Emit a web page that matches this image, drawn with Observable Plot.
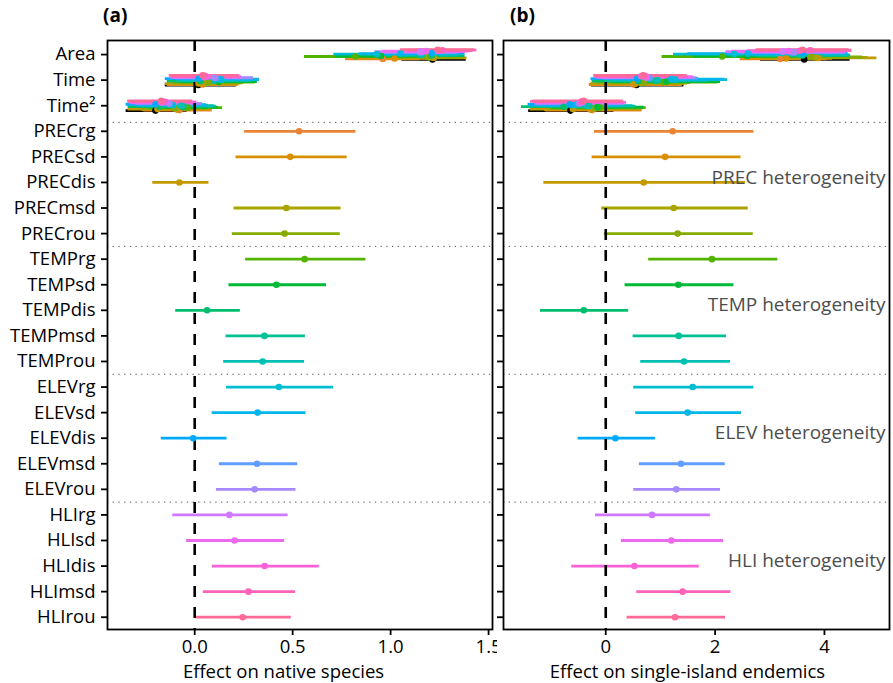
<!DOCTYPE html>
<html><head><meta charset="utf-8">
<script src="https://cdn.jsdelivr.net/npm/d3@7"></script>
<script src="https://cdn.jsdelivr.net/npm/@observablehq/plot@0.6"></script>
<style>
body{margin:0;background:#fff;}
#wrap{position:relative;width:893px;height:683px;}
#row{display:flex;}
.tag{position:absolute;top:6px;font:bold 19px 'Open Sans',sans-serif;line-height:18px;color:#000;}
</style></head>
<body>
<div id="wrap"><div id="row"></div><div class="tag" style="left:103px">(a)</div><div class="tag" style="left:510px">(b)</div></div>
<script>
// ---------- data ----------
const variables = ["PRECrg","PRECsd","PRECdis","PRECmsd","PRECrou",
  "TEMPrg","TEMPsd","TEMPdis","TEMPmsd","TEMProu",
  "ELEVrg","ELEVsd","ELEVdis","ELEVmsd","ELEVrou",
  "HLIrg","HLIsd","HLIdis","HLImsd","HLIrou"];
const covariates = ["Area","Time","Time²"];
const models = ["Null", ...variables];
const rowLabels = [...covariates, ...variables];
const groupLabels = ["PREC heterogeneity","TEMP heterogeneity","ELEV heterogeneity","HLI heterogeneity"];
const groupRows = ["PRECdis","TEMPdis","ELEVdis","HLIdis"];
const nativeTicks = [0, 0.5, 1.0, 1.5];
const endemicTicks = [0, 2, 4];

// heterogeneity effects (panel a: native species)
const nativeEst = [0.533,0.488,-0.078,0.468,0.459,0.561,0.417,0.063,0.356,0.347,0.430,0.321,-0.008,0.318,0.306,0.177,0.203,0.357,0.274,0.245];
const nativeLo  = [0.255,0.211,-0.214,0.201,0.192,0.260,0.175,-0.097,0.160,0.148,0.162,0.089,-0.170,0.126,0.111,-0.112,-0.041,0.090,0.044,0.007];
const nativeHi  = [0.823,0.778,0.073,0.747,0.743,0.874,0.673,0.233,0.565,0.561,0.709,0.568,0.165,0.526,0.517,0.477,0.459,0.636,0.515,0.493];
// heterogeneity effects (panel b: single-island endemics)
const endemicEst = [1.224,1.085,0.694,1.242,1.315,1.943,1.328,-0.401,1.334,1.431,1.590,1.498,0.177,1.376,1.291,0.847,1.200,0.524,1.407,1.267];
const endemicLo  = [-0.206,-0.249,-1.132,-0.073,-0.024,0.785,0.354,-1.193,0.500,0.640,0.512,0.548,-0.505,0.615,0.512,-0.188,0.287,-0.621,0.567,0.390];
const endemicHi  = [2.710,2.473,2.557,2.606,2.698,3.148,2.345,0.420,2.210,2.283,2.710,2.484,0.908,2.186,2.100,1.918,2.155,1.711,2.290,2.192];

// covariate effects per model (Null + 20 models), panel a
const nativeAreaEst = [1.214,0.96,1.02,1.22,1.20,1.19,0.82,0.95,1.21,1.15,1.16,0.93,1.05,1.21,1.15,1.16,1.15,1.18,1.245,1.265,1.24];
const nativeAreaLo  = [1.058,0.77,0.84,1.06,1.03,1.02,0.56,0.72,1.05,0.97,0.98,0.71,0.84,1.05,0.96,0.97,0.92,0.96,1.06,1.09,1.05];
const nativeAreaHi  = [1.386,1.15,1.21,1.39,1.37,1.37,1.07,1.18,1.38,1.34,1.35,1.16,1.27,1.38,1.34,1.35,1.38,1.40,1.42,1.44,1.43];
const nativeTimeEst = [0.019,0.04,0.045,0.02,0.06,0.07,0.12,0.125,0.03,0.10,0.10,0.136,0.13,0.02,0.11,0.10,0.05,0.06,0.05,0.051,0.04];
const nativeTimeLo  = [-0.150,-0.14,-0.135,-0.15,-0.12,-0.11,-0.08,-0.07,-0.14,-0.09,-0.09,-0.06,-0.07,-0.15,-0.09,-0.10,-0.12,-0.12,-0.12,-0.12,-0.13];
const nativeTimeHi  = [0.213,0.22,0.225,0.21,0.24,0.25,0.31,0.32,0.22,0.29,0.29,0.33,0.33,0.21,0.30,0.30,0.23,0.24,0.23,0.23,0.22];
const nativeTime2Est = [-0.200,-0.077,-0.09,-0.19,-0.098,-0.10,-0.036,-0.06,-0.18,-0.058,-0.07,-0.11,-0.12,-0.20,-0.13,-0.13,-0.17,-0.16,-0.15,-0.17,-0.17];
const nativeTime2Lo  = [-0.350,-0.26,-0.27,-0.34,-0.27,-0.27,-0.22,-0.24,-0.34,-0.23,-0.24,-0.29,-0.30,-0.35,-0.30,-0.30,-0.33,-0.33,-0.32,-0.34,-0.342];
const nativeTime2Hi  = [-0.039,0.09,0.08,-0.03,0.07,0.07,0.143,0.12,-0.02,0.11,0.10,0.07,0.06,-0.04,0.04,0.04,-0.01,0.00,0.01,-0.01,-0.013];
// covariate effects per model, panel b
const endemicAreaEst = [3.63,3.19,3.30,3.89,3.83,3.75,2.13,2.59,3.60,3.59,3.55,2.35,2.60,3.60,3.40,3.45,3.24,3.35,3.55,3.74,3.60];
const endemicAreaLo  = [2.83,2.46,2.50,2.85,2.90,2.85,1.03,1.60,2.78,2.70,2.65,1.24,1.50,2.78,2.45,2.50,2.20,2.30,2.60,2.80,2.75];
const endemicAreaHi  = [4.47,4.05,4.15,4.96,4.80,4.70,3.25,3.60,4.45,4.48,4.45,3.45,3.70,4.43,4.40,4.40,4.30,4.40,4.50,4.50,4.45];
const endemicTimeEst = [0.56,0.51,0.53,0.55,0.65,0.70,1.06,1.12,0.60,0.91,0.95,1.27,1.20,0.57,0.80,0.75,0.72,0.75,0.65,0.71,0.68];
const endemicTimeLo  = [-0.26,-0.30,-0.28,-0.27,-0.20,-0.15,0.10,0.12,-0.25,0.00,0.02,0.30,0.25,-0.27,-0.05,-0.10,-0.18,-0.15,-0.20,-0.20,-0.22];
const endemicTimeHi  = [1.43,1.40,1.40,1.42,1.50,1.55,2.05,2.10,1.45,1.85,1.90,2.23,2.18,1.43,1.70,1.65,1.55,1.60,1.50,1.49,1.48];
const endemicTime2Est = [-0.645,-0.25,-0.28,-0.60,-0.22,-0.20,-0.10,-0.15,-0.77,-0.30,-0.35,-0.61,-0.55,-0.66,-0.50,-0.48,-0.45,-0.43,-0.45,-0.43,-0.40];
const endemicTime2Lo  = [-1.41,-1.10,-1.12,-1.38,-1.05,-1.02,-0.95,-1.00,-1.54,-1.15,-1.20,-1.40,-1.35,-1.42,-1.30,-1.28,-1.28,-1.25,-1.30,-1.375,-1.33];
const endemicTime2Hi  = [0.15,0.665,0.62,0.18,0.65,0.68,0.74,0.70,0.05,0.55,0.50,0.20,0.25,0.12,0.30,0.32,0.35,0.38,0.33,0.30,0.32];

// ---------- styling helpers ----------
const FONT = "'Open Sans', sans-serif";
function hclHex(h, c, l) {
  const Xn = 95.047, Yn = 100, Zn = 108.883;
  const den = Xn + 15*Yn + 3*Zn, un = 4*Xn/den, vn = 9*Yn/den;
  const hr = h*Math.PI/180, U = c*Math.cos(hr), V = c*Math.sin(hr);
  const Y = Yn*Math.pow((l+16)/116, 3);
  const up = U/(13*l) + un, vp = V/(13*l) + vn;
  const X = Y*9*up/(4*vp), Z = Y*(12 - 3*up - 20*vp)/(4*vp);
  const x = X/100, y = Y/100, z = Z/100;
  const lin = [3.240479*x - 1.537150*y - 0.498535*z, -0.969256*x + 1.875992*y + 0.041556*z, 0.055648*x - 0.204043*y + 1.057311*z];
  const g = t => t <= 0.0031308 ? 12.92*t : 1.055*Math.pow(t, 1/2.4) - 0.055;
  return "#" + lin.map(t => Math.round(255*Math.max(0, Math.min(1, g(t)))).toString(16).padStart(2, "0")).join("");
}
const hues = d3.range(models.length).map(i => hclHex(15 + i*360/models.length, 100, 65));
const modelColors = ["#000000", ...hues.slice(1)];
const separators = [2.65, 7.5, 12.5, 17.5];

function buildRows(hEst, hLo, hHi, covs) {
  const rows = [];
  covs.forEach((c, r) => models.forEach((m, j) =>
    rows.push({y: r + (10 - j)*0.019, est: c[0][j], lo: c[1][j], hi: c[2][j], color: modelColors[j]})));
  variables.forEach((v, i) => rows.push({y: 3 + i, est: hEst[i], lo: hLo[i], hi: hHi[i], color: modelColors[i + 1]}));
  return rows;
}
const nativeRows = buildRows(nativeEst, nativeLo, nativeHi, [
  [nativeAreaEst, nativeAreaLo, nativeAreaHi],
  [nativeTimeEst, nativeTimeLo, nativeTimeHi],
  [nativeTime2Est, nativeTime2Lo, nativeTime2Hi]]);
const endemicRows = buildRows(endemicEst, endemicLo, endemicHi, [
  [endemicAreaEst, endemicAreaLo, endemicAreaHi],
  [endemicTimeEst, endemicTimeLo, endemicTimeHi],
  [endemicTime2Est, endemicTime2Lo, endemicTime2Hi]]);

function panel({rows, width, marginLeft, marginRight, xDomain, ticks, tickFormat, title, titleDx, showLabels, groups}) {
  const marks = [
    Plot.ruleY(separators, {stroke: "#555", strokeWidth: 1, strokeDasharray: "1.3,4.4"}),
    Plot.ruleY(rows, {y: "y", x1: "lo", x2: "hi", stroke: "color", strokeWidth: 2.8}),
    Plot.ruleX([0], {stroke: "black", strokeWidth: 2.6, strokeDasharray: "11,10"}),
    Plot.dot(rows, {x: "est", y: "y", fill: "color", r: 3.3}),
    Plot.frame({stroke: "black", strokeWidth: 1.8}),
    Plot.axisY(d3.range(rowLabels.length), {
      tickFormat: showLabels ? (i => rowLabels[i]) : (() => ""),
      tickSize: 6, tickPadding: 6, strokeWidth: 1.8, fontSize: 18.5, label: null, fill: "black"}),
    Plot.axisX({ticks, tickFormat, tickSize: 6, tickPadding: 4, strokeWidth: 1.8, fontSize: 18.5, label: null, fill: "black"}),
    Plot.text([title], {text: d => d, frameAnchor: "bottom-left", dx: titleDx, dy: 43,
      textAnchor: "middle", lineAnchor: "middle", fontSize: 18.5, fill: "black"})
  ];
  if (groups) marks.push(Plot.text(groupLabels, {
    text: d => d, y: (d, i) => rowLabels.indexOf(groupRows[i]), frameAnchor: "right",
    textAnchor: "end", dx: -4, dy: -5, fontSize: 19, fill: "#4d4d4d"}));
  return Plot.plot({
    width, height: 683, marginLeft, marginRight, marginTop: 40, marginBottom: 54,
    style: {fontFamily: FONT, background: "white", color: "black", overflow: "visible"},
    x: {domain: xDomain},
    y: {domain: [-0.55, 22.48], reverse: true},
    marks
  });
}

const row = document.getElementById("row");
row.appendChild(panel({rows: nativeRows, width: 497, marginLeft: 107, marginRight: 5,
  xDomain: [-0.445, 1.52], ticks: nativeTicks, tickFormat: d3.format(".1f"),
  title: "Effect on native species", titleDx: 176, showLabels: true, groups: false}));
row.appendChild(panel({rows: endemicRows, width: 396, marginLeft: 6, marginRight: 4,
  xDomain: [-1.87, 5.19], ticks: endemicTicks, tickFormat: d3.format("d"),
  title: "Effect on single-island endemics", titleDx: 184, showLabels: false, groups: true}));
</script>
</body></html>
